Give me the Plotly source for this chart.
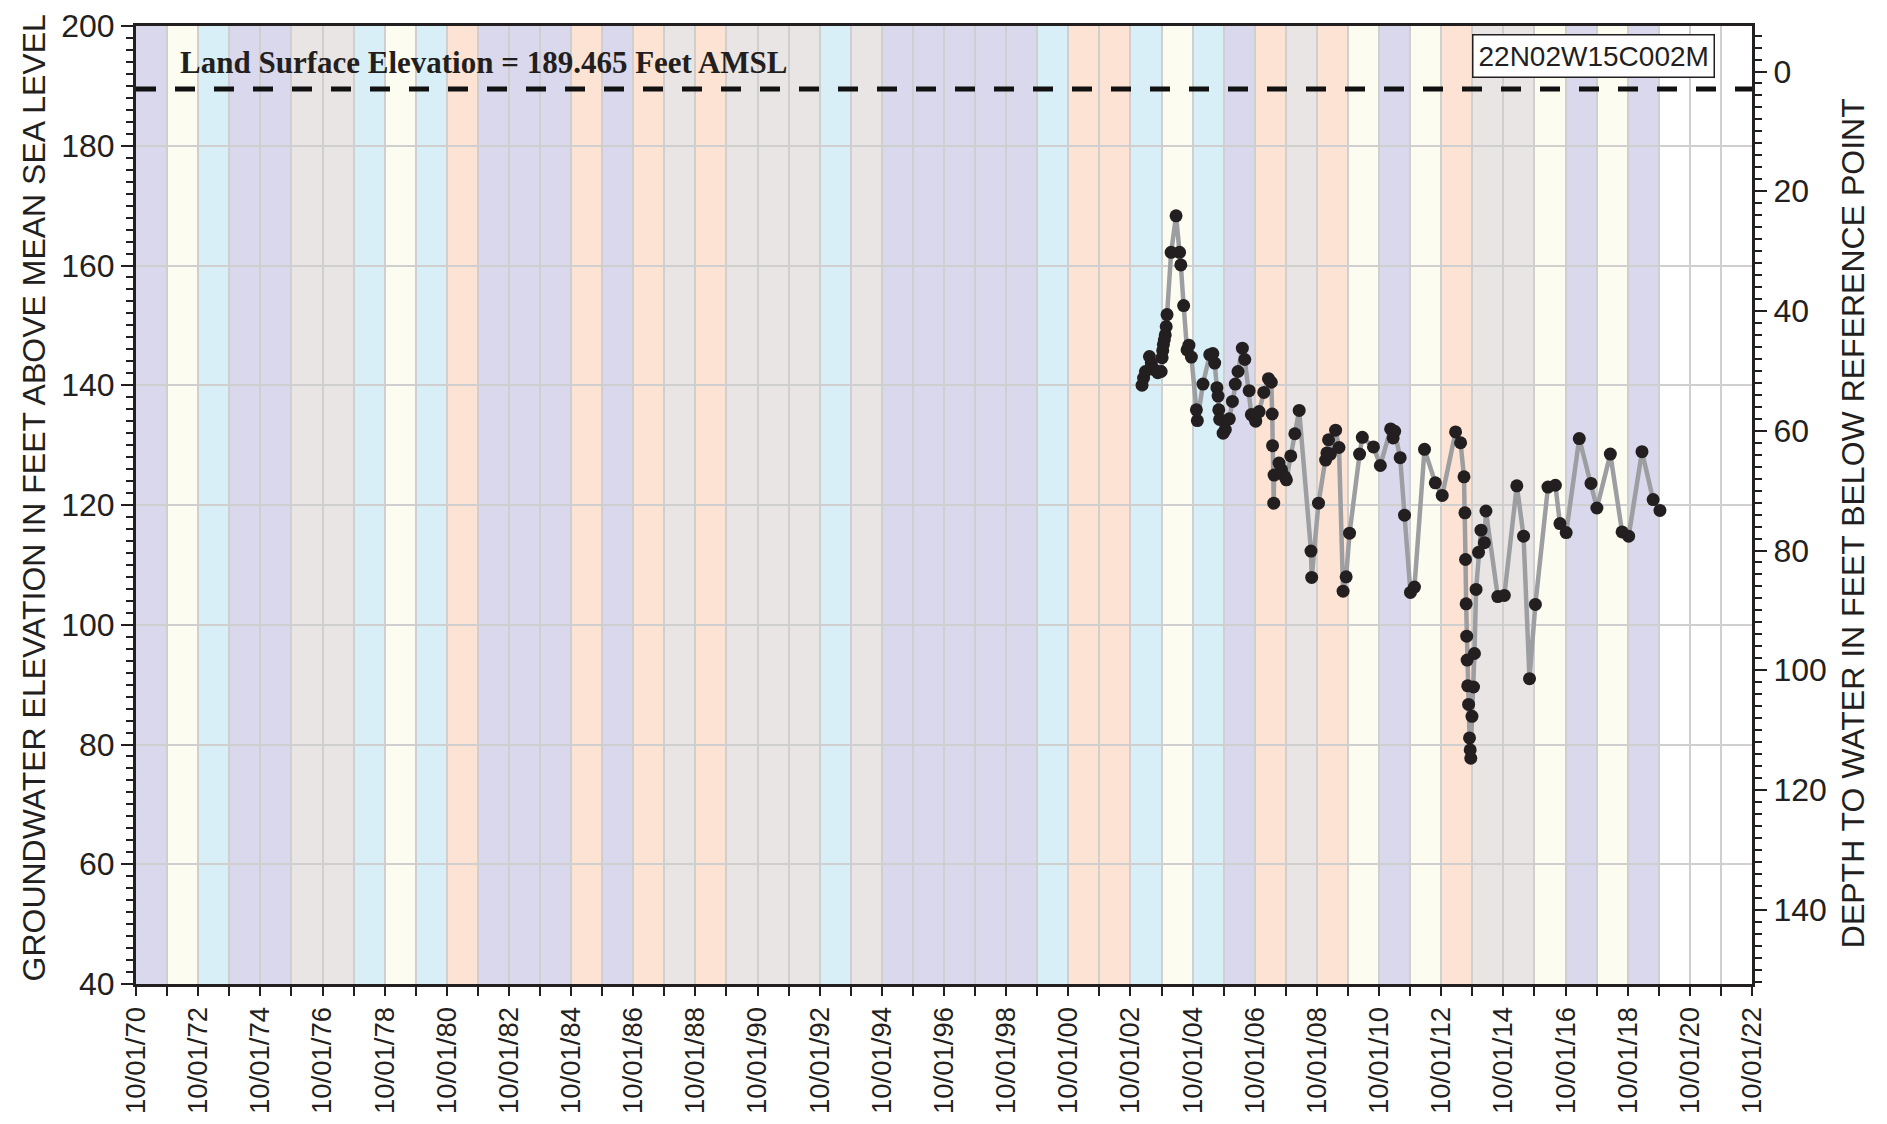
import plotly.graph_objects as go
import pandas as pd

# water year types (Sacramento Valley index), WY1971..WY2019
wy_start = list(range(1970, 2019))
wy_type = ["W", "BN", "AN", "W", "W", "C", "C", "AN", "BN", "AN",
           "D", "W", "W", "W", "D", "W", "D", "C", "D", "C",
           "C", "C", "AN", "C", "W", "W", "W", "W", "W", "AN",
           "D", "D", "AN", "BN", "AN", "W", "D", "C", "D", "BN",
           "W", "BN", "D", "C", "C", "BN", "W", "BN", "W"]
type_color = {"W": "#dad8ec", "AN": "#d8eff7", "BN": "#fcfdf0",
              "D": "#fde3d3", "C": "#e9e5e4"}

dates = ["2003-02-14", "2003-03-04", "2003-03-26", "2003-05-12", "2003-06-03",
         "2003-07-09", "2003-08-18", "2003-09-27", "2003-10-08", "2003-10-15",
         "2003-10-23", "2003-11-03", "2003-11-14", "2003-11-25", "2003-12-05",
         "2004-01-22", "2004-03-20", "2004-04-30", "2004-05-15", "2004-06-17",
         "2004-07-27", "2004-08-18", "2004-09-16", "2004-11-14", "2004-11-25",
         "2005-01-30", "2005-04-20", "2005-05-26", "2005-06-17", "2005-07-13",
         "2005-07-27", "2005-08-04", "2005-08-15", "2005-09-24", "2005-10-20",
         "2005-12-06", "2006-01-11", "2006-02-14", "2006-03-18", "2006-05-08",
         "2006-06-06", "2006-07-27", "2006-08-22", "2006-10-01", "2006-10-12",
         "2006-11-21", "2007-01-15", "2007-03-11", "2007-04-13", "2007-04-24",
         "2007-04-28", "2007-05-12", "2007-05-16", "2007-07-13", "2007-08-11",
         "2007-09-20", "2007-10-08", "2007-11-28", "2008-01-15", "2008-03-06",
         "2008-07-23", "2008-07-31", "2008-10-19", "2009-01-11", "2009-01-26",
         "2009-02-14", "2009-03-08", "2009-05-08", "2009-06-17", "2009-08-04",
         "2009-09-09", "2009-10-19", "2010-02-14", "2010-03-18", "2010-07-27",
         "2010-10-16", "2011-02-14", "2011-03-15", "2011-04-02", "2011-06-06",
         "2011-07-27", "2011-10-05", "2011-11-21", "2012-03-18", "2012-07-23",
         "2012-10-12", "2013-03-18", "2013-05-16", "2013-06-25", "2013-07-06",
         "2013-07-13", "2013-07-20", "2013-07-27", "2013-08-01", "2013-08-08",
         "2013-08-18", "2013-08-29", "2013-09-06", "2013-09-13", "2013-09-27",
         "2013-10-15", "2013-10-26", "2013-11-14", "2013-12-13", "2014-01-11",
         "2014-02-20", "2014-03-10", "2014-07-27", "2014-10-12", "2015-03-08",
         "2015-05-26", "2015-08-04", "2015-10-12", "2016-03-08", "2016-06-03",
         "2016-07-27", "2016-10-08", "2017-03-11", "2017-07-27", "2017-10-04",
         "2018-03-11", "2018-07-27", "2018-10-12", "2019-03-18", "2019-07-27",
         "2019-10-15"]
elev = [140.0, 141.2, 142.3, 144.8, 143.7,
        142.6, 142.1, 142.3, 144.6, 145.8,
        146.8, 147.6, 148.4, 149.8, 151.8,
        162.2, 168.3, 162.2, 160.1, 153.3,
        145.9, 146.7, 144.7, 135.9, 134.1,
        140.2, 145.1, 145.3, 143.7, 139.6,
        138.2, 135.9, 134.3, 132.0, 132.6,
        134.4, 137.3, 140.2, 142.3, 146.2,
        144.3, 139.1, 135.1, 134.5, 134.0,
        135.6, 138.8, 141.1, 140.5, 135.2,
        129.9, 120.3, 125.0, 127.0, 125.9,
        124.7, 124.2, 128.2, 131.9, 135.8,
        112.3, 107.9, 120.3, 127.5, 128.7,
        130.9, 128.5, 132.5, 129.6, 105.6,
        108.0, 115.3, 128.5, 131.3, 129.7,
        126.6, 132.7, 131.2, 132.3, 127.9,
        118.3, 105.4, 106.3, 129.3, 123.7,
        121.6, 132.2, 130.4, 124.7, 118.7,
        110.9, 103.5, 98.1, 94.1, 89.8,
        86.7, 81.1, 79.1, 77.7, 84.7,
        89.6, 95.2, 105.9, 112.1, 115.8,
        113.7, 119.0, 104.7, 104.9, 123.2,
        114.8, 91.0, 103.4, 123.0, 123.3,
        116.9, 115.4, 131.1, 123.6, 119.5,
        128.5, 115.5, 114.8, 128.9, 120.9,
        119.1]

land_surface = 189.465
ref_point = 192.4
well_id = "22N02W15C002M"

df = pd.DataFrame({"date": pd.to_datetime(dates), "elev": elev})
df["depth"] = ref_point - df["elev"]

ink = "#231f20"
tick_font = dict(family="Liberation Sans, Arial, sans-serif", size=32, color=ink)
x_font = dict(family="Liberation Sans, Arial, sans-serif", size=27.5, color=ink)
title_font = dict(family="Liberation Sans, Arial, sans-serif", size=32, color=ink)

fig = go.Figure()

fig.add_trace(go.Scatter(x=df["date"], y=df["elev"], mode="lines+markers",
                         line=dict(color="#9c9ea1", width=4.5),
                         marker=dict(color=ink, size=13),
                         showlegend=False))
# invisible trace to carry the depth axis
fig.add_trace(go.Scatter(x=df["date"], y=df["depth"], yaxis="y2", mode="markers",
                         marker=dict(opacity=0), hoverinfo="skip", showlegend=False))

for y0, t in zip(wy_start, wy_type):
    fig.add_shape(type="rect", xref="x", yref="paper",
                  x0=f"{y0}-10-01", x1=f"{y0 + 1}-10-01", y0=0, y1=1,
                  fillcolor=type_color[t], line_width=0, layer="below")

fig.add_shape(type="line", xref="paper", yref="y", x0=0, x1=1,
              y0=land_surface, y1=land_surface,
              line=dict(color="#111111", width=5, dash="20px,19px"))

fig.add_annotation(xref="paper", yref="y", x=0.026, y=193.9, xanchor="left", yanchor="middle",
                   text=f"<b>Land Surface Elevation = {land_surface} Feet AMSL</b>",
                   showarrow=False,
                   font=dict(family="Liberation Serif, Times New Roman, serif", size=31, color=ink))
fig.add_annotation(xref="paper", yref="y", x=0.9017, y=195.0, xanchor="center", yanchor="middle",
                   text=well_id, showarrow=False, bgcolor="white",
                   bordercolor=ink, borderwidth=1.5, borderpad=5,
                   font=dict(family="Liberation Sans, Arial, sans-serif", size=28, color=ink))
fig.add_annotation(xref="paper", yref="paper", x=-0.063, y=0.507, textangle=-90,
                   xanchor="center", yanchor="middle",
                   text="GROUNDWATER ELEVATION IN FEET ABOVE MEAN SEA LEVEL",
                   showarrow=False, font=title_font)
fig.add_annotation(xref="paper", yref="paper", x=1.0625, y=0.481, textangle=-90,
                   xanchor="center", yanchor="middle",
                   text="DEPTH TO WATER IN FEET BELOW REFERENCE POINT",
                   showarrow=False, font=title_font)

# page body adds an 8px offset, so the figure is a bit smaller than the window
fig.update_layout(
    width=1871, height=1108,
    margin=dict(l=128, r=127, t=18, b=132),
    paper_bgcolor="white", plot_bgcolor="white",
    xaxis=dict(range=["1970-10-01", "2022-10-01"], tick0="1970-10-01", dtick="M24",
               tickformat="%m/%d/%y", tickangle=-90, tickfont=x_font, automargin=False,
               ticks="outside", ticklen=9, tickwidth=2, tickcolor=ink,
               showgrid=True, gridcolor="#cfcfcf", gridwidth=1.5,
               showline=True, linecolor=ink, linewidth=3, mirror=True,
               minor=dict(tick0="1970-10-01", dtick="M12", ticks="outside", ticklen=9,
                          tickwidth=2, tickcolor=ink,
                          showgrid=True, gridcolor="#cfcfcf", gridwidth=1.5),
               zeroline=False),
    yaxis=dict(range=[40, 200], dtick=20, tickfont=tick_font, automargin=False,
               ticks="outside", ticklen=12, tickwidth=2, tickcolor=ink,
               showgrid=True, gridcolor="#cfcfcf", gridwidth=2,
               showline=True, linecolor=ink, linewidth=3, mirror=True,
               minor=dict(dtick=2, ticks="outside", ticklen=7, tickwidth=1.5,
                          tickcolor=ink, showgrid=False),
               zeroline=False),
    yaxis2=dict(overlaying="y", side="right", automargin=False,
                range=[ref_point - 40, ref_point - 200], dtick=20, tick0=0,
                tickfont=tick_font, ticks="outside", ticklen=12, tickwidth=2,
                tickcolor=ink, showgrid=False,
                showline=True, linecolor=ink, linewidth=3,
                minor=dict(dtick=2, tick0=0, ticks="outside", ticklen=7, tickwidth=1.5,
                           tickcolor=ink),
                zeroline=False),
)

fig.write_html("out.html")
